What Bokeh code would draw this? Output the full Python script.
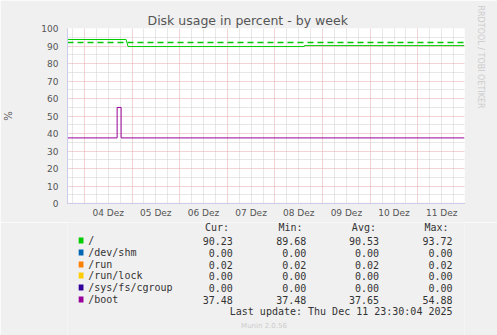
import math
from bokeh.plotting import figure
from bokeh.models import Range1d, FixedTicker, Title
from bokeh.layouts import column
from bokeh.core.properties import value
from bokeh.embed import file_html
from bokeh.resources import INLINE

# ---- data (hours relative to 04 Dez 00:00) ----
x_start, x_end = -8.5, 191.5
day_ticks = [12, 36, 60, 84, 108, 132, 156, 180]
day_labels = ["04 Dez", "05 Dez", "06 Dez", "07 Dez", "08 Dez", "09 Dez", "10 Dez", "11 Dez"]
midnights = [0, 24, 48, 72, 96, 120, 144, 168]
six_hours = [h for h in range(-6, 192, 6) if h % 24 != 0]
y_ticks = [0, 10, 20, 30, 40, 50, 60, 70, 80, 90, 100]
y_minor = [5, 15, 25, 35, 45, 55, 65, 75, 85, 95]

root_t = [-8.5, 21.0, 22.0, 110.8, 110.8, 191.5]
root_v = [93.72, 93.72, 89.68, 89.68, 90.23, 90.23]
warn_t = [-8.5, 191.5]
warn_v = [92.0, 92.0]
shm_t = [-8.5, 191.5]
shm_v = [0.0, 0.0]
run_t = [-8.5, 191.5]
run_v = [0.02, 0.02]
lock_t = [-8.5, 191.5]
lock_v = [0.0, 0.0]
cg_t = [-8.5, 191.5]
cg_v = [0.0, 0.0]
boot_t = [-8.5, 16.5, 16.5, 18.5, 18.5, 191.5]
boot_v = [37.48, 37.48, 54.88, 54.88, 37.48, 37.48]

names = ["/", "/dev/shm", "/run", "/run/lock", "/sys/fs/cgroup", "/boot"]
colors = ["#00CC00", "#0066B3", "#FF8000", "#FFCC00", "#330099", "#990099"]
headers = ["Cur:", "Min:", "Avg:", "Max:"]
cur = ["90.23", "0.00", "0.02", "0.00", "0.00", "37.48"]
mins = ["89.68", "0.00", "0.02", "0.00", "0.00", "37.48"]
avgs = ["90.53", "0.00", "0.02", "0.00", "0.00", "37.65"]
maxs = ["93.72", "0.00", "0.02", "0.00", "0.00", "54.88"]
last_update = "Last update: Thu Dec 11 23:30:04 2025"
version = "Munin 2.0.56"

# ---- main chart ----
FL, FB, TOP_H = 67, 203, 222
p = figure(width=497, height=TOP_H, output_backend="svg", toolbar_location=None,
           x_range=Range1d(x_start, x_end), y_range=Range1d(0, 100),
           min_border_left=FL, min_border_right=497 - FL - 400,
           min_border_top=28, min_border_bottom=TOP_H - FB)
p.border_fill_color = "#f0f0f0"
p.background_fill_color = "#ffffff"
p.outline_line_color = None

p.title.text = "Disk usage in percent - by week"
p.title.align = "left"
p.title.offset = 80
p.title.text_font = "DejaVu Sans"
p.title.text_font_size = "12.5px"
p.title.text_font_style = "normal"
p.title.text_color = "#555555"
p.title.standoff = 2

rt = Title(text="RRDTOOL / TOBI OETIKER", align="left", text_font="DejaVu Sans",
           text_font_size="8px", text_font_style="normal", text_color="#cccccc",
           standoff=22, offset=-23)
p.add_layout(rt, "right")

# grids
p.xgrid.ticker = FixedTicker(ticks=midnights, minor_ticks=six_hours)
p.xgrid.grid_line_color = "#e6a8a8"
p.xgrid.grid_line_dash = "1 1"
p.xgrid.minor_grid_line_color = "#cfcfcf"
p.xgrid.minor_grid_line_dash = "1 1"
p.ygrid.ticker = FixedTicker(ticks=y_ticks, minor_ticks=y_minor)
p.ygrid.grid_line_color = "#e6a8a8"
p.ygrid.grid_line_dash = "1 1"
p.ygrid.minor_grid_line_color = "#cfcfcf"
p.ygrid.minor_grid_line_dash = "1 1"

# axes
p.xaxis.ticker = FixedTicker(ticks=day_ticks)
p.xaxis.major_label_overrides = {t: l for t, l in zip(day_ticks, day_labels)}
p.yaxis.ticker = FixedTicker(ticks=y_ticks)
for ax in (p.xaxis, p.yaxis):
    ax.major_tick_line_color = None
    ax.minor_tick_line_color = None
    ax.axis_line_color = "#ccccee"
    ax.major_label_text_font = "DejaVu Sans"
    ax.major_label_text_font_size = "9px"
    ax.major_label_text_color = "#555555"
p.xaxis.major_label_standoff = -2
p.yaxis.major_label_standoff = 3
p.yaxis.axis_label = "%"
p.yaxis.axis_label_text_font = "DejaVu Sans"
p.yaxis.axis_label_text_font_size = "10px"
p.yaxis.axis_label_text_font_style = "normal"
p.yaxis.axis_label_text_color = "#555555"
p.yaxis.axis_label_standoff = 24

# series
p.line(warn_t, warn_v, line_color=colors[0], line_width=1.3, line_dash="6 4")
p.line(root_t, root_v, line_color=colors[0], line_width=1)
p.line(shm_t, shm_v, line_color=colors[1], line_width=1)
p.line(run_t, run_v, line_color=colors[2], line_width=1)
p.line(lock_t, lock_v, line_color=colors[3], line_width=1)
p.line(cg_t, cg_v, line_color=colors[4], line_width=1)
p.line(boot_t, boot_v, line_color=colors[5], line_width=1)

# ---- legend panel (pixel-space figure below the chart) ----
L_H = 335 - TOP_H
q = figure(width=497, height=L_H, output_backend="svg", toolbar_location=None,
           x_range=Range1d(0, 497), y_range=Range1d(335, TOP_H),
           min_border=0, x_axis_location=None, y_axis_location=None)
q.border_fill_color = "#f0f0f0"
q.background_fill_color = "#f0f0f0"
q.outline_line_color = None
q.grid.visible = False

row_y = [240, 252, 264, 275, 287, 299]
mono = value("DejaVu Sans Mono")
q.text(x=[172, 264, 356, 447], y=[227] * 4, text=headers, text_font=mono,
       text_font_size="10px", text_color="#333333", text_baseline="middle", text_align="left")
q.rect(x=[17] * len(names), y=row_y, width=6, height=6, fill_color=colors, line_color=None)
q.text(x=[26] * len(names), y=row_y, text=names, text_font=mono,
       text_font_size="10px", text_color="#333333", text_baseline="middle", text_align="left")
for vals, xr in zip([cur, mins, avgs, maxs], [207, 299, 390, 482]):
    q.text(x=[xr] * len(vals), y=row_y, text=vals, text_font=mono,
           text_font_size="10px", text_color="#333333", text_baseline="middle",
           text_align="right")
q.text(x=[482], y=[311], text=[last_update], text_font=mono, text_font_size="10px",
       text_color="#333333", text_baseline="middle", text_align="right")
q.text(x=[246], y=[325], text=[version], text_font=value("DejaVu Sans"),
       text_font_size="7px", text_color="#cccccc", text_baseline="middle", text_align="center")

layout = column(p, q, spacing=0)
open("out.html", "w").write(file_html(layout, INLINE))
